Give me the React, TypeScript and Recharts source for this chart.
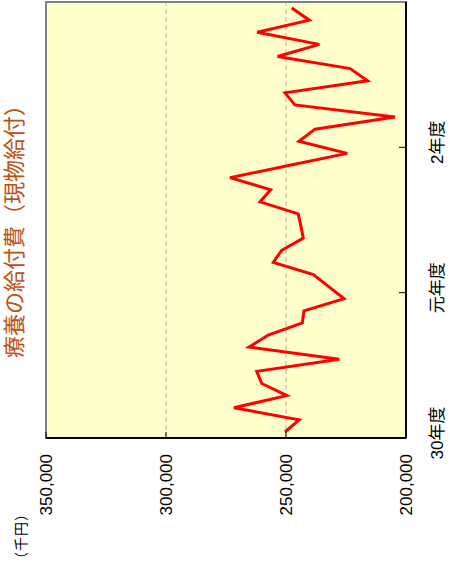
import { LineChart, Line, XAxis, YAxis, CartesianGrid, ReferenceArea } from 'recharts';

// 年度ラベル（12か月ごとの区切り）
const FISCAL_YEARS = ['30年度', '元年度', '2年度'];
const YEAR_TICKS = [0, 12, 24];

// 月別の療養の給付費（千円）、30年度4月〜2年度3月
const VALUES = [
  250400, 244500, 271700, 249700, 260100, 262200,
  227800, 265400, 257400, 243200, 242500, 225800,
  232200, 238600, 255300, 251800, 242800, 243800,
  244900, 260800, 256400, 273300, 248900, 224500,
  244600, 237900, 204600, 246300, 250400, 216000,
  223300, 253500, 236100, 262000, 240300, 247600,
];

const VALUE_TICKS = [200000, 250000, 300000, 350000];

const FONT = '"Liberation Sans", Arial, "Noto Sans CJK JP", sans-serif';

export default function App() {
  // 各月は帯の中央に置く
  const data = VALUES.map((v, i) => ({ m: i + 0.5, value: v }));

  return (
    <div
      style={{
        position: 'absolute',
        left: 0,
        top: 0,
        width: 566,
        height: 450,
        background: '#fff',
        fontFamily: FONT,
        transformOrigin: '0 0',
        transform: 'translate(0px, 566px) rotate(-90deg)',
      }}
    >
      <div
        style={{
          position: 'absolute',
          left: 100,
          width: 480,
          top: 2,
          lineHeight: '26px',
          fontSize: 22,
          textAlign: 'center',
          color: '#c0500f',
        }}
      >
        療養の給付費（現物給付）
      </div>
      <div
        style={{
          position: 'absolute',
          left: 0,
          top: 12,
          fontSize: 14,
          lineHeight: '18px',
          letterSpacing: 1,
          color: '#000',
          whiteSpace: 'nowrap',
        }}
      >
        （千円）
      </div>

      <LineChart
        width={566}
        height={450}
        data={data}
        margin={{ top: 46, right: 2, bottom: 14, left: 68 }}
      >
        <CartesianGrid
          vertical={false}
          fill="#ffffcc"
          stroke="#b8b8a0"
          strokeDasharray="5 3"
        />
        <ReferenceArea
          x1={0}
          x2={36}
          y1={200000}
          y2={350000}
          fill="none"
          stroke="#808080"
          strokeWidth={2}
          ifOverflow="visible"
        />
        <XAxis
          dataKey="m"
          type="number"
          domain={[0, 36]}
          ticks={YEAR_TICKS}
          tickFormatter={(v) => FISCAL_YEARS[v / 12]}
          height={30}
          stroke="#000"
          axisLine={{ stroke: '#000', strokeWidth: 2 }}
          tickSize={-7}
          tickMargin={32}
          tick={{ fill: '#000', fontSize: 17, fontFamily: FONT, dx: 5 }}
        />
        <YAxis
          type="number"
          domain={[200000, 350000]}
          ticks={VALUE_TICKS}
          tickFormatter={(v) => v.toLocaleString('en-US')}
          width={60}
          stroke="#000"
          axisLine={{ stroke: '#000', strokeWidth: 2 }}
          tickSize={-6}
          tickMargin={22}
          tick={{ fill: '#000', fontSize: 17, fontFamily: FONT }}
        />
        <Line
          type="linear"
          dataKey="value"
          stroke="#ff0000"
          strokeWidth={3}
          dot={false}
          isAnimationActive={false}
        />
      </LineChart>
    </div>
  );
}
